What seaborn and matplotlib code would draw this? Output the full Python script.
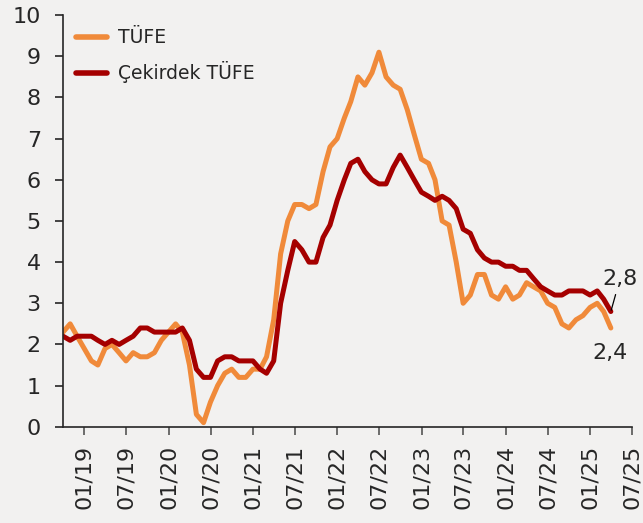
import pandas as pd
import numpy as np
import matplotlib.pyplot as plt
import matplotlib.dates as mdates
import seaborn as sns

# monthly data, Sep 2018 - Mar 2025 (yoy %)
months = pd.date_range("2018-09-30", "2025-03-31", freq="ME")

tufe = [2.3, 2.5, 2.2, 1.9,
        1.6, 1.5, 1.9, 2.0, 1.8, 1.6, 1.8, 1.7, 1.7, 1.8, 2.1, 2.3,
        2.5, 2.3, 1.5, 0.3, 0.1, 0.6, 1.0, 1.3, 1.4, 1.2, 1.2, 1.4,
        1.4, 1.7, 2.6, 4.2, 5.0, 5.4, 5.4, 5.3, 5.4, 6.2, 6.8, 7.0,
        7.5, 7.9, 8.5, 8.3, 8.6, 9.1, 8.5, 8.3, 8.2, 7.7, 7.1, 6.5,
        6.4, 6.0, 5.0, 4.9, 4.0, 3.0, 3.2, 3.7, 3.7, 3.2, 3.1, 3.4,
        3.1, 3.2, 3.5, 3.4, 3.3, 3.0, 2.9, 2.5, 2.4, 2.6, 2.7, 2.9,
        3.0, 2.8, 2.4]

cekirdek = [2.2, 2.1, 2.2, 2.2,
            2.2, 2.1, 2.0, 2.1, 2.0, 2.1, 2.2, 2.4, 2.4, 2.3, 2.3, 2.3,
            2.3, 2.4, 2.1, 1.4, 1.2, 1.2, 1.6, 1.7, 1.7, 1.6, 1.6, 1.6,
            1.4, 1.3, 1.6, 3.0, 3.8, 4.5, 4.3, 4.0, 4.0, 4.6, 4.9, 5.5,
            6.0, 6.4, 6.5, 6.2, 6.0, 5.9, 5.9, 6.3, 6.6, 6.3, 6.0, 5.7,
            5.6, 5.5, 5.6, 5.5, 5.3, 4.8, 4.7, 4.3, 4.1, 4.0, 4.0, 3.9,
            3.9, 3.8, 3.8, 3.6, 3.4, 3.3, 3.2, 3.2, 3.3, 3.3, 3.3, 3.2,
            3.3, 3.1, 2.8]

series_names = ["TÜFE", "Çekirdek TÜFE"]
colors = ["#F08A3A", "#A50000"]

df = pd.DataFrame({"date": months, series_names[0]: tufe, series_names[1]: cekirdek})
long = df.melt(id_vars="date", var_name="seri", value_name="deger")

bg = "#F2F1F0"
sns.set_style("ticks")
plt.rcParams["font.family"] = ["DejaVu Sans"]

fig = plt.figure(figsize=(6.43, 5.23), dpi=100, facecolor=bg)
ax = fig.add_axes([0.098, 0.184, 0.885, 0.787])
ax.set_facecolor(bg)

sns.lineplot(data=long, x="date", y="deger", hue="seri", hue_order=series_names,
             palette=colors, linewidth=3.6, ax=ax)

ax.set_xlim(pd.Timestamp("2018-09-30"), pd.Timestamp("2025-07-01"))
ax.set_ylim(0, 10)
ax.set_yticks(range(0, 11))
ax.xaxis.set_major_locator(mdates.MonthLocator(bymonth=[1, 7]))
ax.xaxis.set_major_formatter(mdates.DateFormatter("%m/%y"))
ax.tick_params(axis="x", labelsize=16, rotation=90, length=6, width=1.2,
               color="#555555", pad=7)
ax.tick_params(axis="y", labelsize=16, length=6, width=1.2, pad=10)
ax.set_xlabel("")
ax.set_ylabel("")
sns.despine(ax=ax)
ax.spines["left"].set_linewidth(1.2)
ax.spines["bottom"].set_linewidth(1.2)

leg = ax.legend(loc="upper left", frameon=False, fontsize=13.5, handlelength=1.65,
                handletextpad=0.6, bbox_to_anchor=(0.0, 1.0), borderaxespad=0.3,
                labelspacing=0.75)
for line in leg.get_lines():
    line.set_linewidth(4)

# end-point labels
last = months[-1]
ax.annotate(f"{cekirdek[-1]:.1f}".replace(".", ","), xy=(last, cekirdek[-1]),
            xytext=(last + pd.Timedelta(days=40), 3.6), fontsize=16, ha="center", va="center",
            arrowprops=dict(arrowstyle="-", color="black", lw=0.9, shrinkA=2, shrinkB=1))
ax.text(last - pd.Timedelta(days=5), 1.8, f"{tufe[-1]:.1f}".replace(".", ","),
        fontsize=16, ha="center", va="center")

fig.savefig("out.png", dpi=100, facecolor=bg)
